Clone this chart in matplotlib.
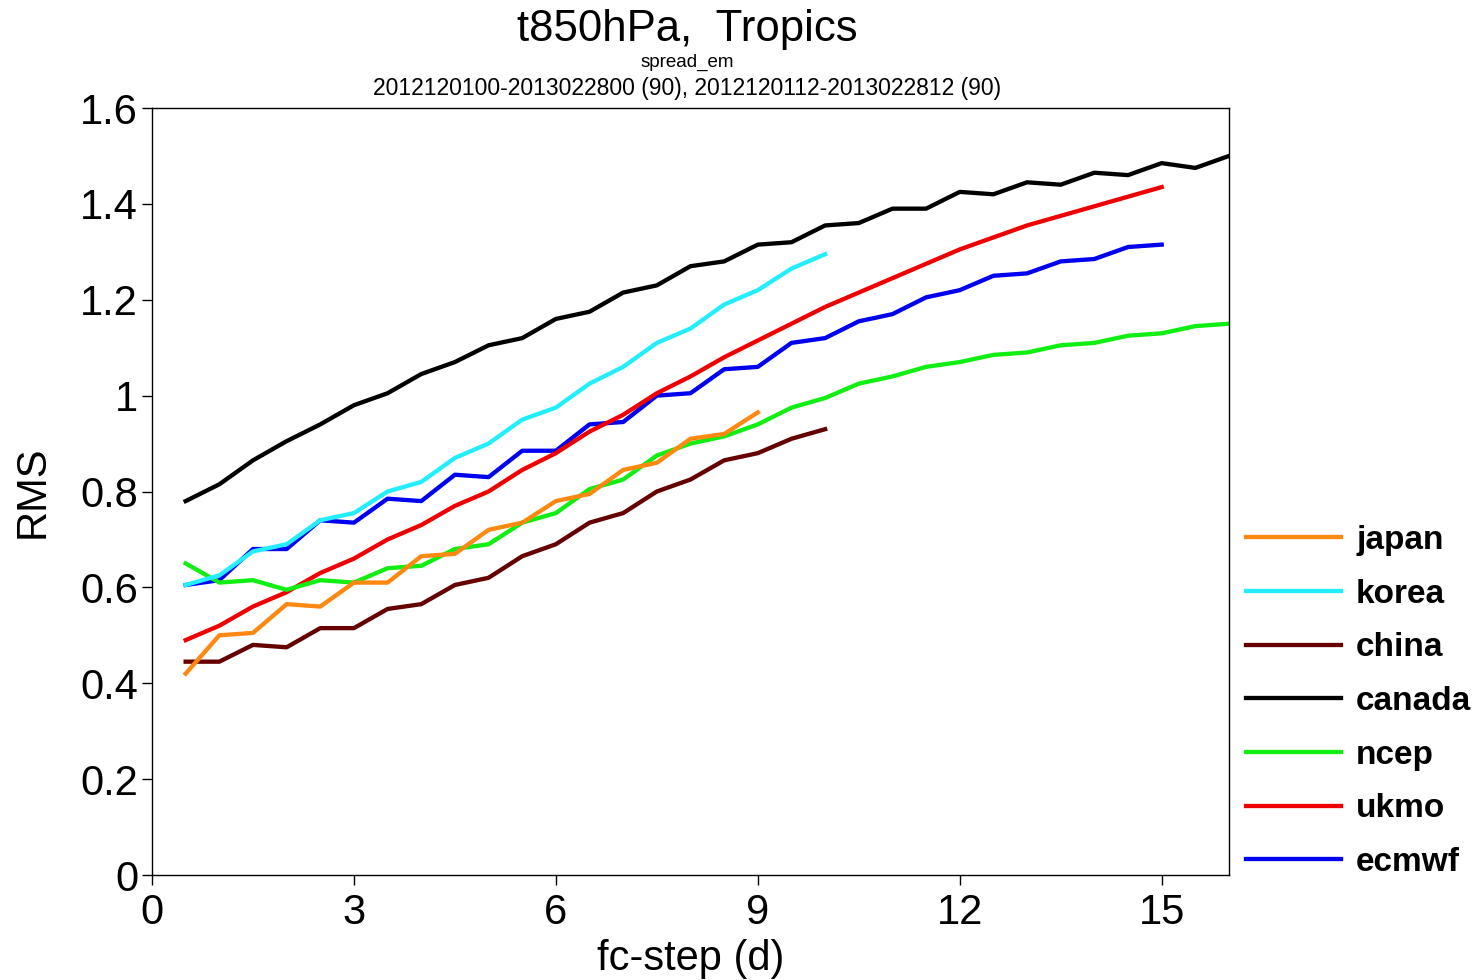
import matplotlib
matplotlib.use("Agg")
import matplotlib.pyplot as plt
import numpy as np

plt.rcParams['font.family'] = ['Liberation Sans', 'DejaVu Sans']

#-----DATA---------------------------------------------------------------------#
steps = np.arange(0.5, 16.01, 0.5)          # fc-step in days

canada = [0.78, 0.815, 0.865, 0.905, 0.94, 0.98, 1.005, 1.045, 1.07, 1.105,
          1.12, 1.16, 1.175, 1.215, 1.23, 1.27, 1.28, 1.315, 1.32, 1.355,
          1.36, 1.39, 1.39, 1.425, 1.42, 1.445, 1.44, 1.465, 1.46, 1.485,
          1.475, 1.5]
korea = [0.605, 0.625, 0.675, 0.69, 0.74, 0.755, 0.80, 0.82, 0.87, 0.90,
         0.95, 0.975, 1.025, 1.06, 1.11, 1.14, 1.19, 1.22, 1.265, 1.295]
ecmwf = [0.605, 0.615, 0.68, 0.68, 0.74, 0.735, 0.785, 0.78, 0.835, 0.83,
         0.885, 0.885, 0.94, 0.945, 1.0, 1.005, 1.055, 1.06, 1.11, 1.12,
         1.155, 1.17, 1.205, 1.22, 1.25, 1.255, 1.28, 1.285, 1.31, 1.315]
ukmo = [0.49, 0.52, 0.56, 0.59, 0.63, 0.66, 0.70, 0.73, 0.77, 0.80,
        0.845, 0.88, 0.925, 0.96, 1.005, 1.04, 1.08, 1.115, 1.15, 1.185,
        1.215, 1.245, 1.275, 1.305, 1.33, 1.355, 1.375, 1.395, 1.415, 1.435]
ncep = [0.65, 0.61, 0.615, 0.595, 0.615, 0.61, 0.64, 0.645, 0.68, 0.69,
        0.735, 0.755, 0.805, 0.825, 0.875, 0.90, 0.915, 0.94, 0.975, 0.995,
        1.025, 1.04, 1.06, 1.07, 1.085, 1.09, 1.105, 1.11, 1.125, 1.13,
        1.145, 1.15]
japan = [0.42, 0.50, 0.505, 0.565, 0.56, 0.61, 0.61, 0.665, 0.67, 0.72,
         0.735, 0.78, 0.795, 0.845, 0.86, 0.91, 0.92, 0.965]
china = [0.445, 0.445, 0.48, 0.475, 0.515, 0.515, 0.555, 0.565, 0.605, 0.62,
         0.665, 0.69, 0.735, 0.755, 0.80, 0.825, 0.865, 0.88, 0.91, 0.93]

# plotting order (bottom to top); legend shows it reversed
series = [('ecmwf', ecmwf, '#0000f0'),
          ('ukmo', ukmo, '#f00000'),
          ('ncep', ncep, '#11ee11'),
          ('canada', canada, '#000000'),
          ('china', china, '#660000'),
          ('korea', korea, '#22eeff'),
          ('japan', japan, '#ff8811')]

xticks = [0, 3, 6, 9, 12, 15]
yticks = [0, 0.2, 0.4, 0.6, 0.8, 1, 1.2, 1.4, 1.6]
yticklabels = ['0', '0.2', '0.4', '0.6', '0.8', '1', '1.2', '1.4', '1.6']

#-----PLOT---------------------------------------------------------------------#
fig = plt.figure(figsize=(14.77, 9.8), dpi=100)
ax = fig.add_axes([152/1477, 1 - 875/980, (1229 - 152)/1477, (875 - 108)/980])

for name, vals, col in series:
    ax.plot(steps[:len(vals)], vals, color=col, lw=3.1, label=name)

ax.set_xlim(0, 16)
ax.set_ylim(0, 1.6)
ax.set_xticks(xticks)
ax.set_yticks(yticks)
ax.set_yticklabels(yticklabels)
ax.tick_params(axis='x', direction='out', length=7, width=1, labelsize=30, pad=6)
ax.tick_params(axis='y', direction='out', length=7, width=1, labelsize=30, pad=3)
for s in ax.spines.values():
    s.set_linewidth(1)

ax.set_xlabel('fc-step (d)', fontsize=30, labelpad=4)
ax.set_ylabel('RMS', fontsize=30, labelpad=20)

fig.text(0.4655, 1 - 29/980, 't850hPa,  Tropics', fontsize=31.5,
         ha='center', va='center')
fig.text(0.4655, 1 - 62/980, 'spread_em', fontsize=13.5, ha='center', va='center')
fig.text(0.4655, 1 - 88/980,
         '2012120100-2013022800 (90), 2012120112-2013022812 (90)',
         fontsize=16.5, ha='center', va='center')

handles, labels = ax.get_legend_handles_labels()
leg = fig.legend(handles[::-1], labels[::-1], loc='center left',
                 bbox_to_anchor=(1246/1477, 1 - 701.5/980), frameon=False,
                 prop={'size': 24, 'weight': 'bold'}, handlelength=2.85,
                 handletextpad=0.45, labelspacing=0.68, borderpad=0,
                 borderaxespad=0)

fig.savefig('out.png', dpi=100)
